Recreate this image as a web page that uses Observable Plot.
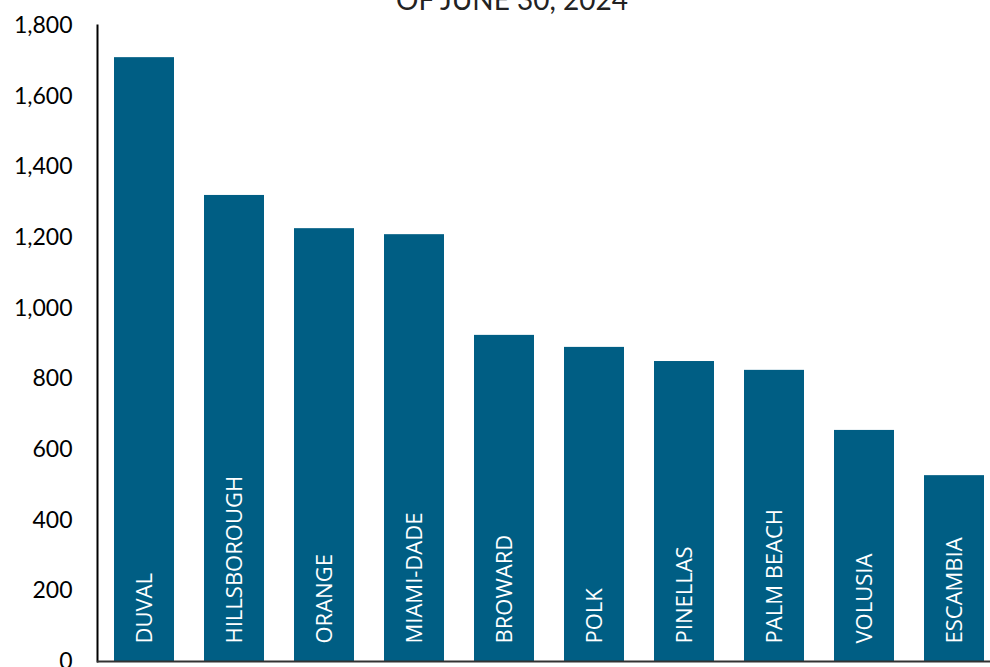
<!DOCTYPE html>
<html>
<head>
<meta charset="utf-8">
<script src="https://cdn.jsdelivr.net/npm/d3@7"></script>
<script src="https://cdn.jsdelivr.net/npm/@observablehq/plot@0.6"></script>
<style>
  html, body { margin: 0; padding: 0; background: #fff; overflow: hidden; }
  #chart svg { display: block; }
</style>
</head>
<body>
<div id="chart"></div>
<script>
const titleText = "OF JUNE 30, 2024";
const counties = ["DUVAL", "HILLSBOROUGH", "ORANGE", "MIAMI-DADE", "BROWARD", "POLK", "PINELLAS", "PALM BEACH", "VOLUSIA", "ESCAMBIA"];
const values = [1709, 1319, 1225, 1208, 923, 889, 849, 824, 654, 526];
const yTicks = [0, 200, 400, 600, 800, 1000, 1200, 1400, 1600, 1800];

const data = counties.map((c, i) => ({county: c, value: values[i]}));
const barColor = "#005e84";

const chart = Plot.plot({
  width: 990,
  height: 667,
  marginLeft: 97,
  marginRight: 0,
  marginTop: 25,
  marginBottom: 6,
  style: {fontFamily: "Lato, sans-serif", background: "#fff"},
  x: {domain: counties, paddingInner: 0.335, paddingOuter: 0.167, range: [97, 1000], axis: null},
  y: {domain: [0, 1800], ticks: yTicks, tickFormat: d3.format(","), label: null},
  marks: [
    Plot.barY(data, {x: "county", y: "value", fill: barColor}),
    Plot.text(data, {
      x: "county", y: 0, text: "county", rotate: -90, textAnchor: "start",
      dy: -18, fill: "white", fontSize: 22, fontFamily: "'Open Sans', sans-serif"
    }),
    Plot.axisY({ticks: yTicks, tickFormat: d3.format(","), tickSize: 0, tickPadding: 25, fontSize: 23, fill: "#000", label: null}),
    Plot.frame({anchor: "left", stroke: "#000", strokeWidth: 2}),
    Plot.ruleY([0], {stroke: "#333", strokeWidth: 2}),
    Plot.text([titleText], {frameAnchor: "top", dy: -16, lineAnchor: "bottom", text: d => d, fontSize: 28, fill: "#222", fontFamily: "Lato, sans-serif", dx: -32, letterSpacing: "2px"})
  ]
});
document.getElementById("chart").appendChild(chart);
</script>
</body>
</html>
